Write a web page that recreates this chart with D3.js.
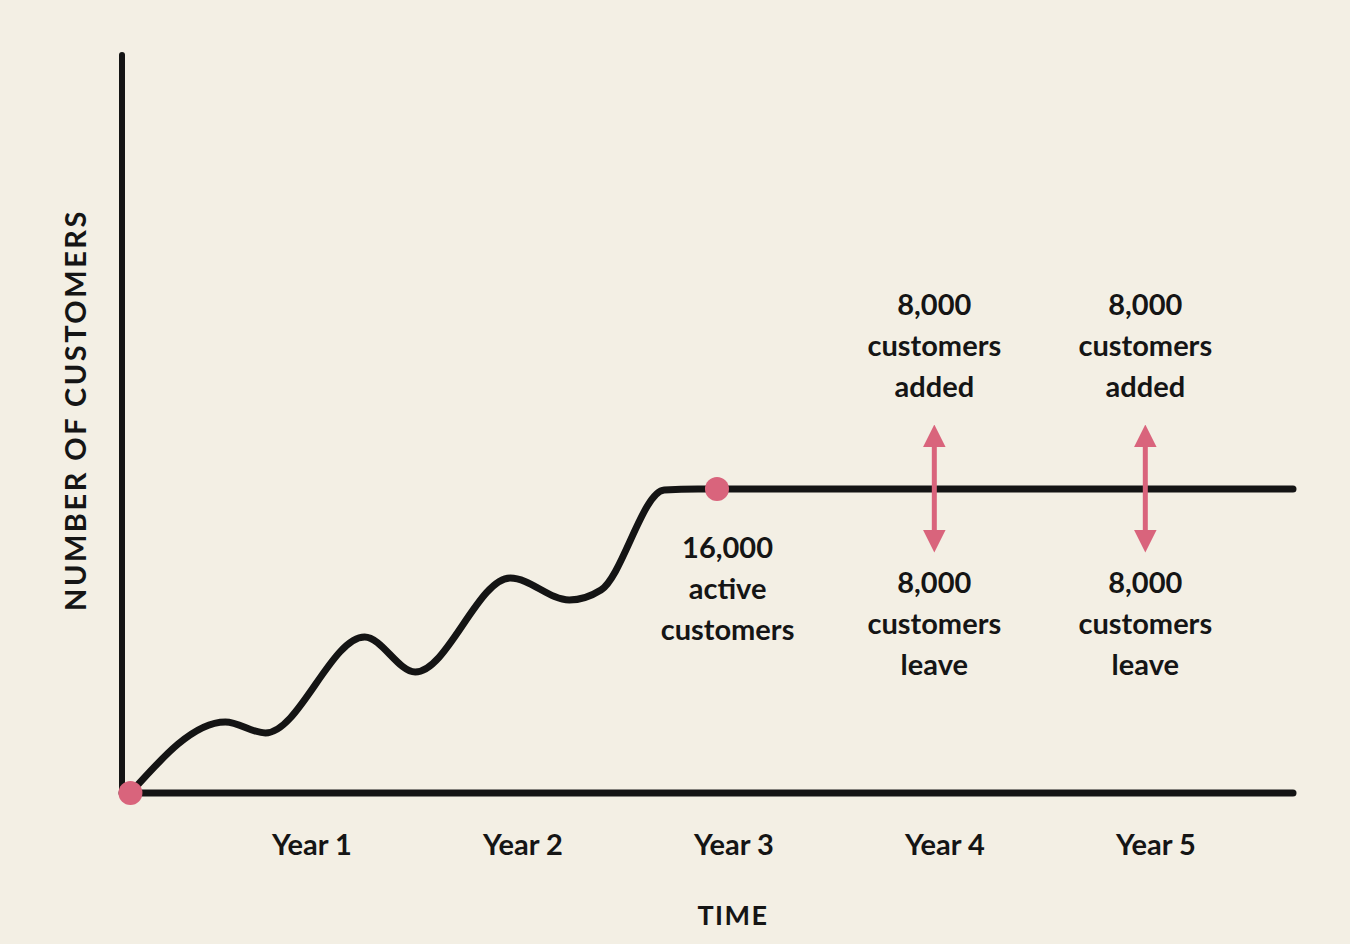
<!DOCTYPE html>
<html><head><meta charset="utf-8">
<script src="https://cdn.jsdelivr.net/npm/d3@7"></script>
<style>
body{margin:0;background:#f3efe4;}
text{font-family:Lato,"Noto Sans",sans-serif;fill:#151515;}
</style></head>
<body><svg id="c" width="1350" height="944"></svg>
<script>
// curve in years / customers
var years = [0.04,0.49,0.68,1.15,1.39,1.84,2.12,2.27,2.57,2.73,5.55];
var customers = [0,3737,3158,8211,6368,11316,10158,10684,15947,16000,16000];
var yearLabels = ["Year 1","Year 2","Year 3","Year 4","Year 5"];
var churnYears = [3.85,4.85];
var churnAdded = 8000, churnLeave = 8000, activeCount = 16000;

var svg = d3.select("#c");
var x = d3.scaleLinear().domain([0,5.55]).range([122,1293]);
var y = d3.scaleLinear().domain([0,16000]).range([793,489]);
var ink = "#141414", pink = "#d9647c";

svg.append("rect").attr("width",1350).attr("height",944).attr("fill","#f3efe4");

// axes
svg.append("line").attr("x1",x(0)).attr("x2",x(0)).attr("y1",55).attr("y2",y(0))
  .attr("stroke",ink).attr("stroke-width",6).attr("stroke-linecap","round");
svg.append("line").attr("x1",x(0)).attr("x2",x(5.55)).attr("y1",y(0)).attr("y2",y(0))
  .attr("stroke",ink).attr("stroke-width",7).attr("stroke-linecap","round");

svg.selectAll(".yl").data(yearLabels).enter().append("text")
  .attr("x",function(d,i){return x(i+0.9);}).attr("y",855)
  .attr("text-anchor","middle").attr("font-size",29).attr("font-weight",700).text(function(d){return d;});

svg.append("text").attr("x",733).attr("y",925).attr("text-anchor","middle")
  .attr("font-size",27).attr("font-weight",700).attr("letter-spacing",1.5).text("TIME");
svg.append("text").attr("transform","translate(86,410) rotate(-90)").attr("text-anchor","middle")
  .attr("font-size",29).attr("font-weight",700).attr("letter-spacing",2.5).text("NUMBER OF CUSTOMERS");

// curve
var pts = years.map(function(d,i){return [d,customers[i]];});
svg.append("path").datum(pts)
  .attr("d",d3.line().x(function(d){return x(d[0]);}).y(function(d){return y(d[1]);}).curve(d3.curveMonotoneX))
  .attr("fill","none").attr("stroke",ink).attr("stroke-width",7).attr("stroke-linecap","round");

// dots
svg.append("circle").attr("cx",x(0.04)).attr("cy",y(0)).attr("r",12).attr("fill",pink);
svg.append("circle").attr("cx",x(2.82)).attr("cy",y(activeCount)).attr("r",12).attr("fill",pink);

function lines(cx, top, arr){
  arr.forEach(function(t,i){
    svg.append("text").attr("x",cx).attr("y",top+i*41).attr("text-anchor","middle")
      .attr("font-size",29).attr("font-weight",700).text(t);
  });
}
lines(x(2.87),558,[d3.format(",")(activeCount),"active","customers"]);

var defs = svg.append("defs");
defs.append("marker").attr("id","ah").attr("viewBox","0 0 10 10").attr("refX",5).attr("refY",5)
  .attr("markerWidth",4.5).attr("markerHeight",4.5).attr("orient","auto-start-reverse")
  .append("path").attr("d","M0,0L10,5L0,10z").attr("fill",pink);

churnYears.forEach(function(yr){
  var cx = x(yr);
  svg.append("line").attr("x1",cx).attr("x2",cx).attr("y1",y(18800)).attr("y2",y(13250))
    .attr("stroke",pink).attr("stroke-width",5)
    .attr("marker-start","url(#ah)").attr("marker-end","url(#ah)");
  lines(cx,315,[d3.format(",")(churnAdded),"customers","added"]);
  lines(cx,593,[d3.format(",")(churnLeave),"customers","leave"]);
});
</script></body></html>
